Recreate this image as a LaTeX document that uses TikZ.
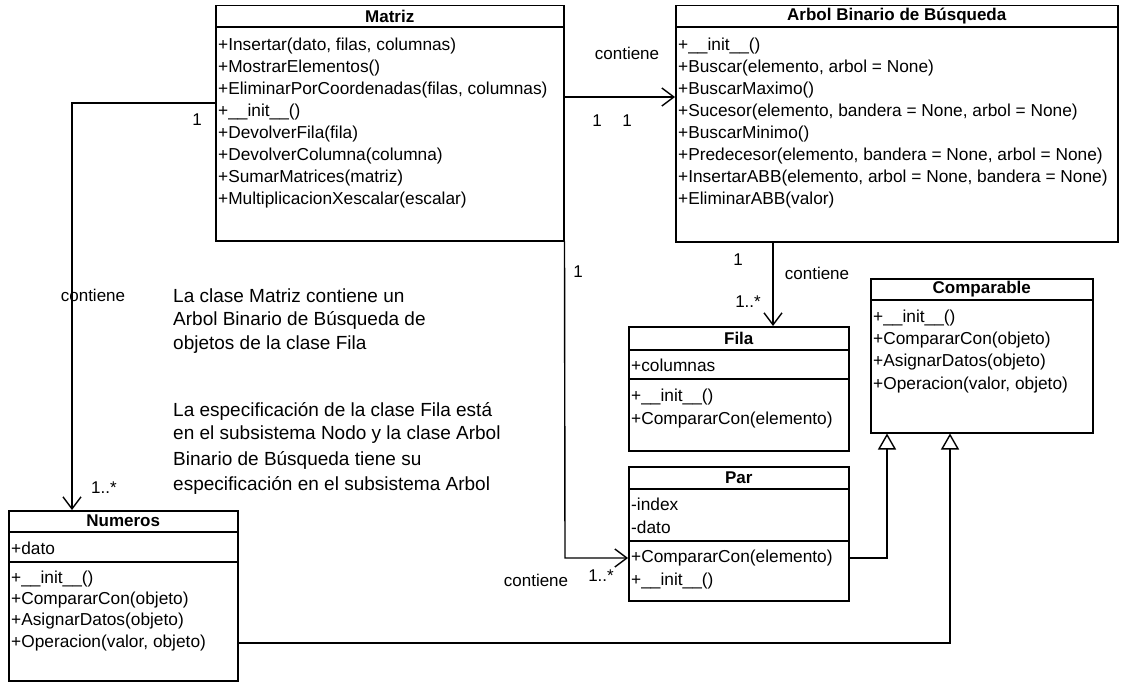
\documentclass[tikz,border=0pt]{standalone}
\usepackage{fontspec}
\setmainfont{Liberation Sans}
\usetikzlibrary{arrows.meta}
\tikzset{
  classbox/.style={draw, line width=1.5pt, fill=white, inner sep=0pt, anchor=north west},
  ctitle/.style={font=\fontsize{17}{19}\selectfont\bfseries, inner sep=0pt},
  member/.style={font=\fontsize{17.3}{19}\selectfont, anchor=west, inner sep=0pt},
  divider/.style={line width=1.3pt},
  lbl/.style={font=\fontsize{17}{19}\selectfont, inner sep=0pt},
  notetext/.style={font=\fontsize{19}{21}\selectfont, anchor=west, inner sep=0pt},
  assoc/.style={line width=1.4pt, -{Straight Barb[length=12pt,width=18pt,line width=1.4pt]}},
  gener/.style={line width=1.4pt, -{Triangle[open,length=16pt,width=18pt,line width=1.4pt,fill=white]}},
}
\begin{document}
\begin{tikzpicture}[x=1pt,y=-1pt]
\useasboundingbox (0,0) rectangle (1121,687);
\fill[white] (0,0) rectangle (1121,687);

% ---------- Matriz
\node[classbox, minimum width=348pt, minimum height=235pt] (matriz) at (215,5) {};
\node[ctitle] (matrizT) at (matriz.north |- 0,16) {Matriz};
\draw[divider] (matriz.west |- 0,27) -- (matriz.east |- 0,27);
\node[member] (mz1) at (218,46) {+Insertar(dato, filas, columnas)};
\node[member] (mz2) at (218,68) {+MostrarElementos()};
\node[member] (mz3) at (218,90) {+EliminarPorCoordenadas(filas, columnas)};
\node[member] (mz4) at (218,112) {+\_\_init\_\_()};
\node[member] (mz5) at (218,134) {+DevolverFila(fila)};
\node[member] (mz6) at (218,156) {+DevolverColumna(columna)};
\node[member] (mz7) at (218,178) {+SumarMatrices(matriz)};
\node[member] (mz8) at (218,200) {+MultiplicacionXescalar(escalar)};

% ---------- Arbol Binario de Busqueda
\node[classbox, minimum width=442pt, minimum height=236pt] (arbol) at (675,5) {};
\node[ctitle] (arbolT) at (arbol.north |- 0,16) {Arbol Binario de Búsqueda};
\draw[divider] (arbol.west |- 0,27) -- (arbol.east |- 0,27);
\node[member] (ab1) at (678,46) {+\_\_init\_\_()};
\node[member] (ab2) at (678,68) {+Buscar(elemento, arbol = None)};
\node[member] (ab3) at (678,90) {+BuscarMaximo()};
\node[member] (ab4) at (678,112) {+Sucesor(elemento, bandera = None, arbol = None)};
\node[member] (ab5) at (678,134) {+BuscarMinimo()};
\node[member] (ab6) at (678,156) {+Predecesor(elemento, bandera = None, arbol = None)};
\node[member] (ab7) at (678,178) {+InsertarABB(elemento, arbol = None, bandera = None)};
\node[member] (ab8) at (678,200) {+EliminarABB(valor)};

% ---------- Comparable
\node[classbox, minimum width=222pt, minimum height=154pt] (comparable) at (870,278) {};
\node[ctitle] (compT) at (comparable.north |- 0,289) {Comparable};
\draw[divider] (comparable.west |- 0,300) -- (comparable.east |- 0,300);
\node[member] (cp1) at (873,318) {+\_\_init\_\_()};
\node[member] (cp2) at (873,340) {+CompararCon(objeto)};
\node[member] (cp3) at (873,362) {+AsignarDatos(objeto)};
\node[member] (cp4) at (873,385) {+Operacion(valor, objeto)};

% ---------- Fila
\node[classbox, minimum width=220pt, minimum height=124pt] (fila) at (628,326) {};
\node[ctitle] (filaT) at (fila.north |- 0,338) {Fila};
\draw[divider] (fila.west |- 0,350) -- (fila.east |- 0,350);
\node[member] (fl1) at (631,365) {+columnas};
\draw[divider] (fila.west |- 0,379) -- (fila.east |- 0,379);
\node[member] (fl2) at (631,397) {+\_\_init\_\_()};
\node[member] (fl3) at (631,420) {+CompararCon(elemento)};

% ---------- Par
\node[classbox, minimum width=220pt, minimum height=134pt] (par) at (628,466) {};
\node[ctitle] (parT) at (par.north |- 0,478) {Par};
\draw[divider] (par.west |- 0,489) -- (par.east |- 0,489);
\node[member] (pr1) at (631,504) {-index};
\node[member] (pr2) at (631,527) {-dato};
\draw[divider] (par.west |- 0,541) -- (par.east |- 0,541);
\node[member] (pr3) at (631,558) {+CompararCon(elemento)};
\node[member] (pr4) at (631,581) {+\_\_init\_\_()};

% ---------- Numeros
\node[classbox, minimum width=229pt, minimum height=170pt] (numeros) at (8,510) {};
\node[ctitle] (numT) at (numeros.north |- 0,521) {Numeros};
\draw[divider] (numeros.west |- 0,532) -- (numeros.east |- 0,532);
\node[member] (nm1) at (11,548) {+dato};
\draw[divider] (numeros.west |- 0,562) -- (numeros.east |- 0,562);
\node[member] (nm2) at (11,579) {+\_\_init\_\_()};
\node[member] (nm3) at (11,600) {+CompararCon(objeto)};
\node[member] (nm4) at (11,621) {+AsignarDatos(objeto)};
\node[member] (nm5) at (11,643) {+Operacion(valor, objeto)};

% ---------- Connectors
% Matriz -> Arbol
\coordinate (yab) at (0,97);
\draw[assoc] (matriz.east |- yab) -- (arbol.west |- yab);
\node[lbl] (lab1) at (627,53) {contiene};
\node[lbl] (lab2) at (597,121) {1};
\node[lbl] (lab3) at (627,121) {1};

% Matriz -> Numeros
\coordinate (cnum) at (72,103);
\draw[assoc] (matriz.west |- cnum) -- (cnum) -- (cnum |- numeros.north);
\node[lbl] (lab4) at (197,120) {1};
\node[lbl] (lab5) at (93,295) {contiene};
\node[lbl] (lab6) at (104,488) {1..*};

% Arbol -> Fila
\coordinate (cfila) at (773,0);
\draw[assoc] (arbol.south -| cfila) -- (fila.north -| cfila);
\node[lbl] (lab7) at (738,260) {1};
\node[lbl] (lab8) at (817,273) {contiene};
\node[lbl] (lab9) at (748,302) {1..*};

% Matriz -> Par
\coordinate (cpar) at (565,558);
\draw[assoc] (matriz.south east) -- (cpar) -- (par.west |- cpar);
\node[lbl] (lab10) at (578,272) {1};
\node[lbl] (lab11) at (536,580) {contiene};
\node[lbl] (lab12) at (601,576) {1..*};

% Par -> Comparable
\coordinate (cg1) at (887,558);
\draw[gener] (par.east |- cg1) -- (cg1) -- (cg1 |- comparable.south);

% Numeros -> Comparable
\coordinate (cg2) at (950,643);
\draw[gener] (numeros.east |- cg2) -- (cg2) -- (cg2 |- comparable.south);

% ---------- Notes
\node[notetext] (n1) at (173,296) {La clase Matriz contiene un};
\node[notetext] (n2) at (173,320) {Arbol Binario de Búsqueda de};
\node[notetext] (n3) at (173,345) {objetos de la clase Fila};
\node[notetext] (n4) at (173,411) {La especificación de la clase Fila está};
\node[notetext] (n5) at (173,435) {en el subsistema Nodo y la clase Arbol};
\node[notetext] (n6) at (173,460) {Binario de Búsqueda tiene su};
\node[notetext] (n7) at (173,485) {especificación en el subsistema Arbol};
\end{tikzpicture}
\end{document}
